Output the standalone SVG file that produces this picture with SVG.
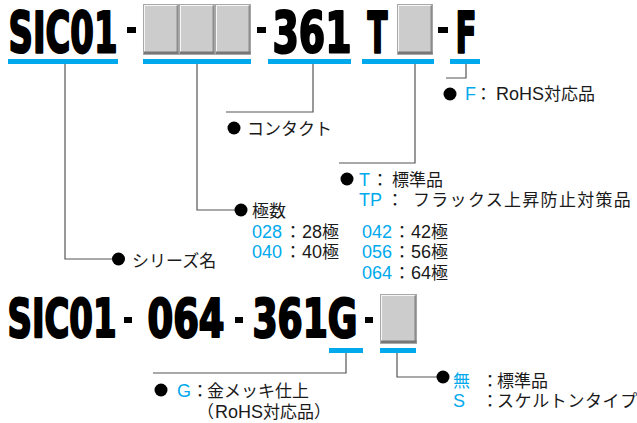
<svg xmlns="http://www.w3.org/2000/svg" width="637" height="423" viewBox="0 0 637 423">
<style>
.code{font-family:"Liberation Sans Narrow","DejaVu Sans Condensed","Liberation Sans",sans-serif;font-weight:bold;fill:#000;stroke:#000;stroke-width:2.2;stroke-linejoin:round}
.bar{fill:#00a9ec}
.dash{fill:#000}
.lbl{font-family:"Liberation Sans","Noto Sans CJK JP",sans-serif;font-size:18px;fill:#1a1a1a}
.j{font-family:"Noto Sans CJK JP","Noto Sans CJK SC",sans-serif;font-size:17px}
.b{fill:#00a9ec}
.conn{fill:none;stroke:#555;stroke-width:1.2}
.dot{fill:#000}
</style>
<defs>
<symbol id="key" viewBox="0 0 36 51" preserveAspectRatio="none">
<rect x="0.5" y="0.5" width="35" height="50" fill="#cccccc" stroke="#a8a8a8"/>
<path d="M1.5,48 V1.5 H34" fill="none" stroke="#f6f6f6" stroke-width="1"/>
<path d="M34.3,1.5 V49" fill="none" stroke="#8c8c8c" stroke-width="1.6"/>
<path d="M1,48.8 H35.5" fill="none" stroke="#777" stroke-width="2.6"/>
</symbol>
</defs>

<g id="code-top">
<text class="code" x="8.5" y="53" font-size="57" textLength="109" lengthAdjust="spacingAndGlyphs">SIC01</text>
<rect class="dash" x="127" y="27" width="9" height="6"/>
<use href="#key" x="143" y="4" width="36" height="51"/>
<use href="#key" x="179" y="4" width="36" height="51"/>
<use href="#key" x="215" y="4" width="36" height="51"/>
<rect class="dash" x="257" y="27" width="9" height="6"/>
<text class="code" x="272.5" y="53" font-size="57" textLength="79" lengthAdjust="spacingAndGlyphs">361</text>
<text class="code" x="367.5" y="53" font-size="57" textLength="20" lengthAdjust="spacingAndGlyphs">T</text>
<use href="#key" x="397" y="4" width="36" height="51"/>
<rect class="dash" x="438" y="27" width="10" height="6"/>
<text class="code" x="455.5" y="53" font-size="57" textLength="21" lengthAdjust="spacingAndGlyphs">F</text>
<rect class="bar" x="8" y="59" width="110" height="5"/>
<rect class="bar" x="143" y="59" width="108" height="5"/>
<rect class="bar" x="268" y="59" width="83" height="5"/>
<rect class="bar" x="362" y="59" width="72" height="5"/>
<rect class="bar" x="450" y="59" width="30" height="5"/>
</g>

<g id="code-bottom">
<text class="code" x="7.5" y="336.5" font-size="53" textLength="109" lengthAdjust="spacingAndGlyphs">SIC01</text>
<rect class="dash" x="124" y="317" width="8" height="6"/>
<text class="code" x="147.5" y="336.5" font-size="53" textLength="77" lengthAdjust="spacingAndGlyphs">064</text>
<rect class="dash" x="235" y="317" width="8" height="6"/>
<text class="code" x="252.5" y="336.5" font-size="53" textLength="105" lengthAdjust="spacingAndGlyphs">361G</text>
<rect class="dash" x="365" y="317" width="8" height="6"/>
<use href="#key" x="380" y="294" width="37" height="50"/>
<rect class="bar" x="329" y="348" width="34" height="5"/>
<rect class="bar" x="380" y="348" width="36" height="5"/>
</g>

<g id="connectors">
<path class="conn" d="M65,64 V259 H118"/>
<path class="conn" d="M197,64 V210 H240"/>
<path class="conn" d="M313,64 V112 H226"/>
<path class="conn" d="M415,64 V163 H339"/>
<path class="conn" d="M466,64 V78 H446"/>
<path class="conn" d="M346,353 V373 H153"/>
<path class="conn" d="M397,353 V377 H443"/>
</g>

<g id="label-rohs">
<circle class="dot" cx="450" cy="94" r="6.5"/>
<text class="lbl" y="100"><tspan class="b" x="465">F</tspan><tspan class="j" x="475">：</tspan><tspan x="496">RoHS</tspan><tspan class="j">対応品</tspan></text>
</g>

<g id="label-contact">
<circle class="dot" cx="234" cy="128" r="6.5"/>
<text class="lbl" y="135"><tspan class="j" x="247">コンタクト</tspan></text>
</g>

<g id="label-type">
<circle class="dot" cx="347" cy="179" r="6.5"/>
<text class="lbl" y="186"><tspan class="b" x="359">T</tspan><tspan class="j" x="371.5">：</tspan><tspan class="j" x="392">標準品</tspan></text>
<text class="lbl" y="206"><tspan class="b" x="359">TP</tspan><tspan class="j" x="386.5">：</tspan><tspan class="j" x="413" letter-spacing="1.3">フラックス上昇防止対策品</tspan></text>
</g>

<g id="label-poles">
<circle class="dot" cx="241" cy="210" r="6.5"/>
<text class="lbl" y="217"><tspan class="j" x="252">極数</tspan></text>
<text class="lbl" y="238"><tspan class="b" x="252">028</tspan><tspan class="j" x="284.5">：</tspan><tspan x="302">28</tspan><tspan class="j">極</tspan></text>
<text class="lbl" y="258"><tspan class="b" x="252">040</tspan><tspan class="j" x="284.5">：</tspan><tspan x="302">40</tspan><tspan class="j">極</tspan></text>
<text class="lbl" y="238"><tspan class="b" x="362">042</tspan><tspan class="j" x="393.5">：</tspan><tspan x="411">42</tspan><tspan class="j">極</tspan></text>
<text class="lbl" y="258"><tspan class="b" x="362">056</tspan><tspan class="j" x="393.5">：</tspan><tspan x="411">56</tspan><tspan class="j">極</tspan></text>
<text class="lbl" y="279"><tspan class="b" x="362">064</tspan><tspan class="j" x="393.5">：</tspan><tspan x="411">64</tspan><tspan class="j">極</tspan></text>
</g>

<g id="label-series">
<circle class="dot" cx="118.5" cy="259" r="6.5"/>
<text class="lbl" y="267"><tspan class="j" x="132">シリーズ名</tspan></text>
</g>

<g id="label-plating">
<circle class="dot" cx="161" cy="390" r="6.5"/>
<text class="lbl" y="397"><tspan class="b" x="177">G</tspan><tspan class="j" x="191.5">：</tspan><tspan class="j" x="207">金メッキ仕上</tspan></text>
<text class="lbl" y="418"><tspan class="j" x="197">（</tspan><tspan x="215">RoHS</tspan><tspan class="j">対応品）</tspan></text>
</g>

<g id="label-housing">
<circle class="dot" cx="443" cy="377" r="6.5"/>
<text class="lbl" y="387"><tspan class="j b" x="453">無</tspan><tspan class="j" x="481.5">：</tspan><tspan class="j" x="497">標準品</tspan></text>
<text class="lbl" y="407"><tspan class="b" x="453">S</tspan><tspan class="j" x="481.5">：</tspan><tspan class="j" x="497" letter-spacing="0.6">スケルトンタイプ</tspan></text>
</g>
</svg>
